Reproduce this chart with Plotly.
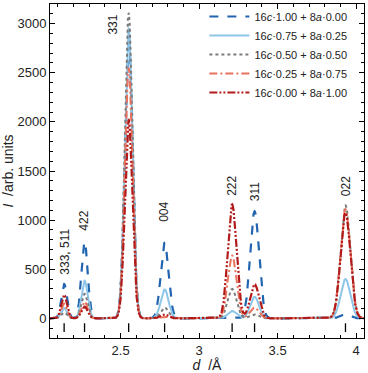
import numpy as np
import plotly.graph_objects as go

# Peak data
hkl_labels = ["333, 511", "422", "331", "004", "222", "311", "022"]
d_peaks = [2.140, 2.270, 2.551, 2.780, 3.210, 3.353, 3.932]
peak_sigma = [0.018, 0.020, 0.024, 0.025, 0.028, 0.028, 0.031]

series_names = [
    "16<i>c</i>·1.00 + 8<i>a</i>·0.00",
    "16<i>c</i>·0.75 + 8<i>a</i>·0.25",
    "16<i>c</i>·0.50 + 8<i>a</i>·0.50",
    "16<i>c</i>·0.25 + 8<i>a</i>·0.75",
    "16<i>c</i>·0.00 + 8<i>a</i>·1.00",
]
heights_c100 = [350, 780, 2880, 770, 0, 1090, 40]
heights_c075 = [105, 385, 2950, 295, 75, 220, 400]
heights_c050 = [60, 250, 3110, 110, 300, 40, 1150]
heights_c025 = [150, 170, 2550, 15, 640, 110, 1110]
heights_c000 = [240, 120, 2020, 40, 1160, 350, 1075]
all_heights = [heights_c100, heights_c075, heights_c050, heights_c025, heights_c000]

label_y = [680, 990, 2990, 1080, 1350, 1290, 1350]
label_dx = [0.0, 0.0, -0.1, 0.0, 0.0, 0.0, 0.0]

colors = ["#2164b0", "#8ec6e8", "#7a7a7a", "#e8725c", "#b31b1b"]
dashes = ["dash", "solid", "dot", "8px,3px,2px,3px", "8px,2px,2px,2px,2px,2px"]
widths = [2.2, 2.0, 2.0, 2.0, 2.2]

x = np.linspace(2.05, 4.05, 3001)

fig = go.Figure()
for name, hs, col, ds, w in zip(series_names, all_heights, colors, dashes, widths):
    y = np.zeros_like(x)
    for d0, h, s in zip(d_peaks, hs, peak_sigma):
        y += h * np.exp(-0.5 * ((x - d0) / s) ** 2)
    fig.add_trace(go.Scatter(x=x, y=y, mode="lines", name=name,
                             line=dict(color=col, dash=ds, width=w)))

# reflection markers
tx, ty = [], []
for d0 in d_peaks:
    tx += [d0, d0, None]
    ty += [-50, -140, None]
fig.add_trace(go.Scatter(x=tx, y=ty, mode="lines", showlegend=False,
                         line=dict(color="black", width=1.3), hoverinfo="skip"))

for lab, d0, ly, dx in zip(hkl_labels, d_peaks, label_y, label_dx):
    fig.add_annotation(x=d0 + dx, y=ly, text=lab, textangle=-90, showarrow=False,
                       font=dict(size=12, color="#222"))

axis_common = dict(showline=True, linecolor="black", linewidth=1, mirror="allticks",
                   ticks="inside", ticklen=5, tickcolor="black", showgrid=False,
                   zeroline=False, tickfont=dict(size=13, color="#222"))
fig.update_xaxes(range=[2.05, 4.05], tickvals=[2.5, 3, 3.5, 4], ticktext=["2.5", "3", "3.5", "4"],
                 minor=dict(dtick=0.1, tick0=2.0, ticks="inside", ticklen=3, tickcolor="black"),
                 title=dict(text="<i>d</i>  /Å", font=dict(size=14, color="#222"), standoff=4),
                 **axis_common)
fig.update_yaxes(range=[-200, 3200], tickvals=[0, 500, 1000, 1500, 2000, 2500, 3000],
                 minor=dict(dtick=100, tick0=0, ticks="inside", ticklen=3, tickcolor="black"),
                 title=dict(text="<i>I</i>  /arb. units", font=dict(size=14, color="#222"), standoff=4),
                 **axis_common)

fig.update_layout(
    width=368, height=373,
    margin=dict(l=50, r=4, t=2, b=35),
    paper_bgcolor="white", plot_bgcolor="white",
    font=dict(family="Liberation Sans, Arial, sans-serif", color="#222"),
    legend=dict(x=0.963, xanchor="right", y=1.006, yanchor="top",
                bgcolor="rgba(0,0,0,0)", font=dict(size=11), tracegroupgap=0,
                itemwidth=40),
)

fig.write_html("out.html", config={"displayModeBar": False},
               post_script="document.body.style.margin='0';document.body.style.overflow='hidden';")
